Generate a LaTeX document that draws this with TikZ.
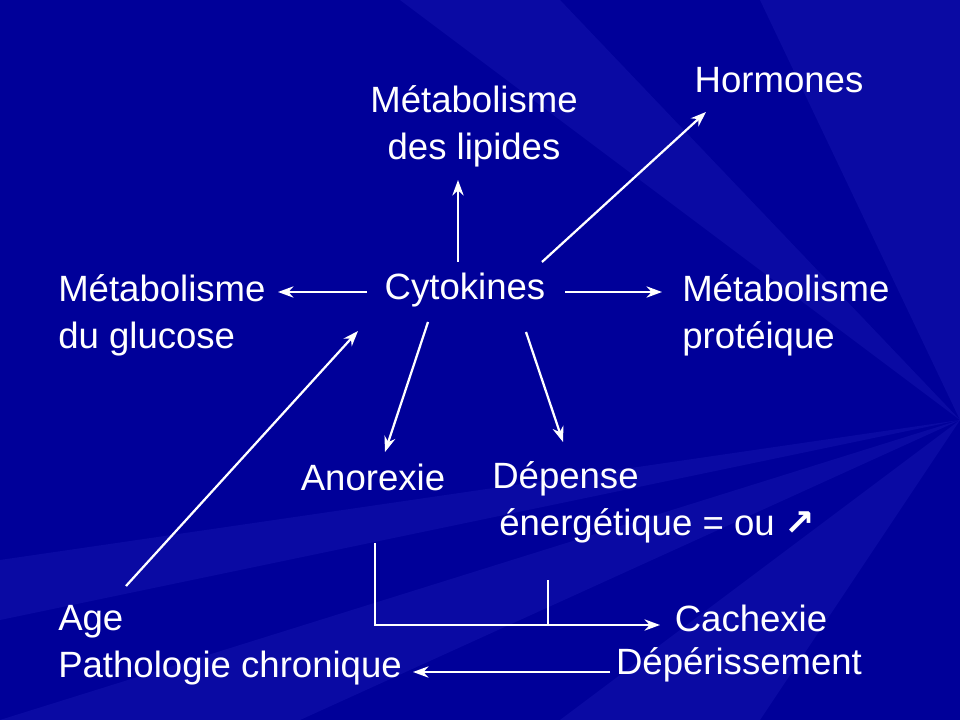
\documentclass[tikz,border=0pt]{standalone}
\usepackage{fontspec}
\setmainfont{Liberation Sans}
\newfontfamily\symfont{DejaVu Sans}
\usetikzlibrary{positioning, arrows.meta}

\begin{document}
\begin{tikzpicture}[
    x=0.025cm, y=-0.025cm, ->, >={Stealth[length=11pt, width=8pt]},
    every node/.style={text=white, font=\fontsize{26}{33.5}\selectfont, inner sep=0pt},
    link/.style={draw=white, line width=1.6pt},
    ray/.style={fill=blue!60!white, opacity=0.1, draw=none}
]

    % background
    \fill[blue!60!black] (0,0) rectangle (960,720);
    \fill[ray] (960,420) -- (0,720) -- (300,720) -- cycle;
    \fill[ray] (960,420) -- (960,0) -- (760,0) -- cycle;
    \fill[ray] (960,420) -- (560,720) -- (760,720) -- cycle;
    \fill[ray] (960,420) -- (0,560) -- (0,620) -- cycle;
    \fill[ray] (960,420) -- (400,0) -- (560,0) -- cycle;
    \useasboundingbox (0,0) rectangle (960,720);

    \node (hormones) at (779,80) {Hormones};
    \node[align=center] (lipides) at (474,126) {Métabolisme\\des lipides};
    \node[anchor=west, align=left] (glucose) at (58,315) {Métabolisme\\du glucose};
    \node (cytokines) at (465,290) {Cytokines};
    \node[anchor=west, align=left] (proteique) at (682,315) {Métabolisme\\protéique};
    \node (anorexie) at (373,477) {Anorexie};
    \node[anchor=west, align=left] (depense) at (492,502) {Dépense\\\hspace{5pt}énergétique = ou {\symfont\bfseries ↗}};
    \node[anchor=west, align=left] (age) at (58,645) {Age\\Pathologie chronique};
    \node (cachexie) at (751,618) {Cachexie};
    \node (deperis) at (739,665) {Dépérissement};

    \coordinate (c1) at (458,262);
    \coordinate (l1) at (458,180);
    \coordinate (c2) at (542,262);
    \coordinate (h1) at (706,112);
    \coordinate (c3) at (367,292);
    \coordinate (g1) at (278,292);
    \coordinate (c4) at (565,292);
    \coordinate (p1) at (662,292);
    \coordinate (c5) at (428,322);
    \coordinate (a1) at (385,452);
    \coordinate (c6) at (526,332);
    \coordinate (d1) at (563,442);
    \coordinate (a2) at (126,586);
    \coordinate (c7) at (358,331);
    \coordinate (b1) at (375,543);
    \coordinate (b2) at (375,625);
    \coordinate (b3) at (548,580);
    \coordinate (b4) at (548,625);
    \coordinate (k1) at (660,625);
    \coordinate (e1) at (610,672);
    \coordinate (e2) at (413,672);

    \draw[link] (c1) -- (l1);
    \draw[link] (c2) -- (h1);
    \draw[link] (c3) -- (g1);
    \draw[link] (c4) -- (p1);
    \draw[link] (c5) -- (a1);
    \draw[link] (c6) -- (d1);
    \draw[link] (a2) -- (c7);
    \draw[link] (b1) -- (b2) -- (k1);
    \draw[link, -] (b3) -- (b4);
    \draw[link] (e1) -- (e2);

\end{tikzpicture}
\end{document}
